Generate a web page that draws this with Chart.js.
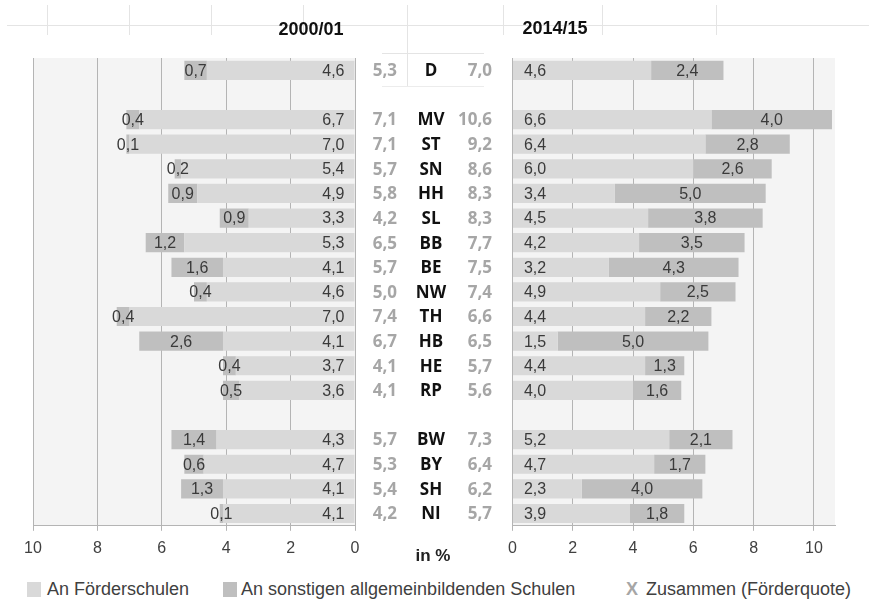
<!DOCTYPE html>
<html>
<head>
<meta charset="utf-8">
<script src="https://cdn.jsdelivr.net/npm/chart.js"></script>
<style>
  body { margin: 0; background: #fff; }
  #wrap { position: relative; width: 869px; height: 610px; background: #fff; overflow: hidden;
          font-family: "Liberation Sans", Arial, sans-serif; color: #404040; }
  .abs { position: absolute; }
  .hl { position: absolute; height: 1px; background: #e4e4e4; }
  .vl { position: absolute; width: 1px; background: #e4e4e4; }
  .title { position: absolute; font-weight: bold; font-size: 18px; color: #111; transform: translate(-50%, -50%); }
  .leg { position: absolute; top: 579px; font-size: 18px; line-height: 20px; color: #404040; }
  .sw { position: absolute; top: 582px; width: 14px; height: 15px; }
</style>
</head>
<body>
<div id="wrap">
  <!-- faint sheet lines behind the header -->
  <div class="hl" style="left:7px;top:25px;width:862px"></div>
  <div class="vl" style="left:47px;top:5px;height:30px"></div>
  <div class="vl" style="left:129px;top:5px;height:30px"></div>
  <div class="vl" style="left:211px;top:5px;height:30px"></div>
  <div class="vl" style="left:303px;top:5px;height:30px"></div>
  <div class="vl" style="left:407px;top:5px;height:82px"></div>
  <div class="vl" style="left:503px;top:5px;height:30px"></div>
  <div class="vl" style="left:602px;top:5px;height:30px"></div>
  <div class="vl" style="left:716px;top:5px;height:30px"></div>
  <div class="hl" style="left:382px;top:53px;width:102px"></div>
  <div class="hl" style="left:382px;top:86px;width:102px;background:#ececec"></div>

  <div class="abs" style="left:0;top:0"><canvas id="left" width="500" height="570"></canvas></div>
  <div class="abs" style="left:500px;top:0"><canvas id="right" width="369" height="570"></canvas></div>

  <div class="title" style="left:311px;top:29px">2000/01</div>
  <div class="title" style="left:555px;top:28px">2014/15</div>
  <div class="title" style="left:433px;top:556px;font-size:17px;color:#222">in %</div>

  <div class="sw" style="left:27px;background:#d9d9d9"></div>
  <div class="leg" style="left:47px">An Förderschulen</div>
  <div class="sw" style="left:223px;background:#bfbfbf"></div>
  <div class="leg" style="left:241px">An sonstigen allgemeinbildenden Schulen</div>
  <div class="leg" style="left:626px;font-weight:bold;color:#a6a6a6">X</div>
  <div class="leg" style="left:646px">Zusammen (Förderquote)</div>
</div>

<script>
const laender = ["D", "", "MV", "ST", "SN", "HH", "SL", "BB", "BE", "NW", "TH", "HB", "HE", "RP", "", "BW", "BY", "SH", "NI"];

// 2000/01
const foerder2000 = [4.6, null, 6.7, 7.0, 5.4, 4.9, 3.3, 5.3, 4.1, 4.6, 7.0, 4.1, 3.7, 3.6, null, 4.3, 4.7, 4.1, 4.1];
const sonst2000 = [0.7, null, 0.4, 0.1, 0.2, 0.9, 0.9, 1.2, 1.6, 0.4, 0.4, 2.6, 0.4, 0.5, null, 1.4, 0.6, 1.3, 0.1];
const quote2000 = [5.3, null, 7.1, 7.1, 5.7, 5.8, 4.2, 6.5, 5.7, 5.0, 7.4, 6.7, 4.1, 4.1, null, 5.7, 5.3, 5.4, 4.2];

// 2014/15
const foerder2015 = [4.6, null, 6.6, 6.4, 6.0, 3.4, 4.5, 4.2, 3.2, 4.9, 4.4, 1.5, 4.4, 4.0, null, 5.2, 4.7, 2.3, 3.9];
const sonst2015 = [2.4, null, 4.0, 2.8, 2.6, 5.0, 3.8, 3.5, 4.3, 2.5, 2.2, 5.0, 1.3, 1.6, null, 2.1, 1.7, 4.0, 1.8];
const quote2015 = [7.0, null, 10.6, 9.2, 8.6, 8.3, 8.3, 7.7, 7.5, 7.4, 6.6, 6.5, 5.7, 5.6, null, 7.3, 6.4, 6.2, 5.7];

const hell = "#d9d9d9";
const dunkel = "#bfbfbf";
const gridCol = "#b4b4b4";

Chart.defaults.font.family = "'Liberation Sans', Arial, sans-serif";
Chart.defaults.color = "#404040";

function fmt(v) {
  return v.toFixed(1).replace(".", ",");
}

// light grey plot background
const plotBg = {
  id: "plotBg",
  beforeDraw(chart) {
    const a = chart.chartArea;
    const ctx = chart.ctx;
    ctx.save();
    ctx.fillStyle = "#f4f4f4";
    ctx.fillRect(a.left, a.top, a.right - a.left, a.bottom - a.top);
    ctx.restore();
  }
};

// value labels on the bars
const barLabels = {
  id: "barLabels",
  afterDatasetsDraw(chart) {
    const ctx = chart.ctx;
    const rev = chart.options.scales.x.reverse;
    ctx.save();
    ctx.font = "16px 'Liberation Sans', Arial, sans-serif";
    ctx.fillStyle = "#3a3a3a";
    ctx.textBaseline = "middle";
    chart.data.datasets.forEach((ds, di) => {
      const meta = chart.getDatasetMeta(di);
      meta.data.forEach((bar, i) => {
        const v = ds.data[i];
        if (v == null) return;
        if (di === 0) {
          ctx.textAlign = rev ? "right" : "left";
          ctx.fillText(fmt(v), rev ? bar.base - 10 : bar.base + 11, bar.y + 1);
        } else {
          ctx.textAlign = "center";
          ctx.fillText(fmt(v), (bar.x + bar.base) / 2, bar.y + 1);
        }
      });
    });
    ctx.restore();
  }
};

// middle column: totals and country codes
const middle = {
  id: "middle",
  afterDraw(chart) {
    const ctx = chart.ctx;
    const y = chart.scales.y;
    ctx.save();
    ctx.font = "bold 17px 'Open Sans', sans-serif";
    ctx.textBaseline = "middle";
    laender.forEach((name, i) => {
      if (!name) return;
      const py = y.getPixelForValue(i) + 1;
      ctx.fillStyle = "#a6a6a6";
      ctx.textAlign = "right";
      ctx.fillText(fmt(quote2000[i]), 397, py);
      ctx.fillText(fmt(quote2015[i]), 492, py);
      ctx.fillStyle = "#111";
      ctx.textAlign = "center";
      ctx.fillText(name, 431, py);
    });
    ctx.restore();
  }
};

function makeChart(id, foerder, sonst, reverse, xmax, padding, extra) {
  return new Chart(document.getElementById(id), {
    type: "bar",
    data: {
      labels: laender,
      datasets: [
        { label: "An Förderschulen", data: foerder, backgroundColor: hell },
        { label: "An sonstigen allgemeinbildenden Schulen", data: sonst, backgroundColor: dunkel }
      ]
    },
    options: {
      indexAxis: "y",
      responsive: false,
      animation: false,
      events: [],
      layout: { padding: padding },
      datasets: { bar: { categoryPercentage: 1, barPercentage: 0.78 } },
      plugins: { legend: { display: false }, tooltip: { enabled: false } },
      scales: {
        x: {
          stacked: true,
          reverse: reverse,
          min: 0,
          max: xmax,
          grid: { color: gridCol, tickLength: 5 },
          border: { color: gridCol },
          ticks: { stepSize: 2, includeBounds: false, padding: 8, font: { size: 16 }, color: "#404040" }
        },
        y: { stacked: true, display: false }
      }
    },
    plugins: [plotBg, barLabels].concat(extra)
  });
}

makeChart("left", foerder2000, sonst2000, true, 10, { top: 58, left: 33, right: 145, bottom: 4 }, [middle]);
makeChart("right", foerder2015, sonst2015, false, 10.7, { top: 58, left: 10, right: 34, bottom: 4 }, []);
</script>
</body>
</html>
